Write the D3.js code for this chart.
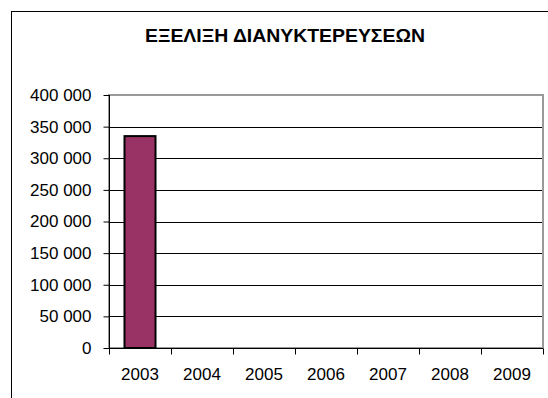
<!DOCTYPE html>
<html>
<head>
<meta charset="utf-8">
<script src="https://cdn.jsdelivr.net/npm/d3@7"></script>
<style>
  html, body { margin: 0; padding: 0; background: #fff; }
  svg { display: block; font-family: "Liberation Sans", Arial, sans-serif; }
</style>
</head>
<body>
<svg id="chart" width="548" height="398"></svg>
<script>
const title = "ΕΞΕΛΙΞΗ ΔΙΑΝΥΚΤΕΡΕΥΣΕΩΝ";
const years = ["2003", "2004", "2005", "2006", "2007", "2008", "2009"];
const overnightStays = [335000, null, null, null, null, null, null];
const yTicks = [0, 50000, 100000, 150000, 200000, 250000, 300000, 350000, 400000];

const svg = d3.select("#chart");
const W = 548, H = 398;
const plot = { left: 109, right: 543, top: 95, bottom: 348 };

// chart area border (left & top visible)
svg.append("rect")
  .attr("x", 11.5).attr("y", 11.5)
  .attr("width", W + 20).attr("height", H + 20)
  .attr("fill", "#fff").attr("stroke", "#000").attr("stroke-width", 1);

svg.append("text")
  .attr("x", 285).attr("y", 42)
  .attr("text-anchor", "middle")
  .attr("font-weight", "bold")
  .attr("font-size", 19)
  .attr("textLength", 280)
  .attr("lengthAdjust", "spacingAndGlyphs")
  .text(title);

const x = d3.scaleBand().domain(years).range([plot.left, plot.right])
  .paddingInner(0.5).paddingOuter(0.25);
const y = d3.scaleLinear().domain([0, 400000]).range([plot.bottom, plot.top]);

const loc = d3.formatLocale({ decimal: ",", thousands: " ", grouping: [3], currency: ["", ""] });
const fmt = loc.format(",d");

// gridlines
svg.append("g").selectAll("line")
  .data(yTicks.filter(v => v > 0 && v < 400000))
  .join("line")
  .attr("x1", plot.left).attr("x2", plot.right)
  .attr("y1", d => Math.round(y(d)) + 0.5).attr("y2", d => Math.round(y(d)) + 0.5)
  .attr("stroke", "#000").attr("stroke-width", 1);

// plot area frame (gray)
svg.append("rect")
  .attr("x", plot.left).attr("y", plot.top)
  .attr("width", plot.right - plot.left).attr("height", plot.bottom - plot.top)
  .attr("fill", "none").attr("stroke", "#999").attr("stroke-width", 2);

// bars
svg.append("g").selectAll("rect")
  .data(years.map((yr, i) => ({ yr, v: overnightStays[i] })).filter(d => d.v != null))
  .join("rect")
  .attr("x", d => x(d.yr))
  .attr("y", d => y(d.v))
  .attr("width", x.bandwidth())
  .attr("height", d => y(0) - y(d.v))
  .attr("fill", "#993366")
  .attr("stroke", "#000").attr("stroke-width", 2);

// y axis
const yAxis = d3.axisLeft(y).tickValues(yTicks).tickFormat(fmt).tickSize(6).tickPadding(12);
const gy = svg.append("g").attr("transform", `translate(${plot.left + 0.5},0)`).call(yAxis);
gy.select(".domain").attr("stroke", "#000").attr("d", `M0,${plot.top}V${plot.bottom}`);
gy.selectAll(".tick line").attr("stroke", "#000");
gy.selectAll("text").attr("font-size", 17).attr("fill", "#000")
  .attr("font-family", "Liberation Sans, Arial, sans-serif");

// x axis
const xAxis = d3.axisBottom(x).tickSize(0).tickPadding(19);
const gx = svg.append("g").attr("transform", `translate(0,${plot.bottom + 0.5})`).call(xAxis);
gx.select(".domain").attr("stroke", "#000").attr("d", `M${plot.left},0H${plot.right}`);
gx.selectAll("text").attr("font-size", 17).attr("fill", "#000")
  .attr("font-family", "Liberation Sans, Arial, sans-serif");
// category boundary ticks
const edges = d3.range(years.length + 1).map(i => plot.left + i * x.step());
gx.append("g").selectAll("line").data(edges).join("line")
  .attr("x1", d => Math.round(d) + 0.5).attr("x2", d => Math.round(d) + 0.5)
  .attr("y1", 0).attr("y2", 6)
  .attr("stroke", "#000");
</script>
</body>
</html>
